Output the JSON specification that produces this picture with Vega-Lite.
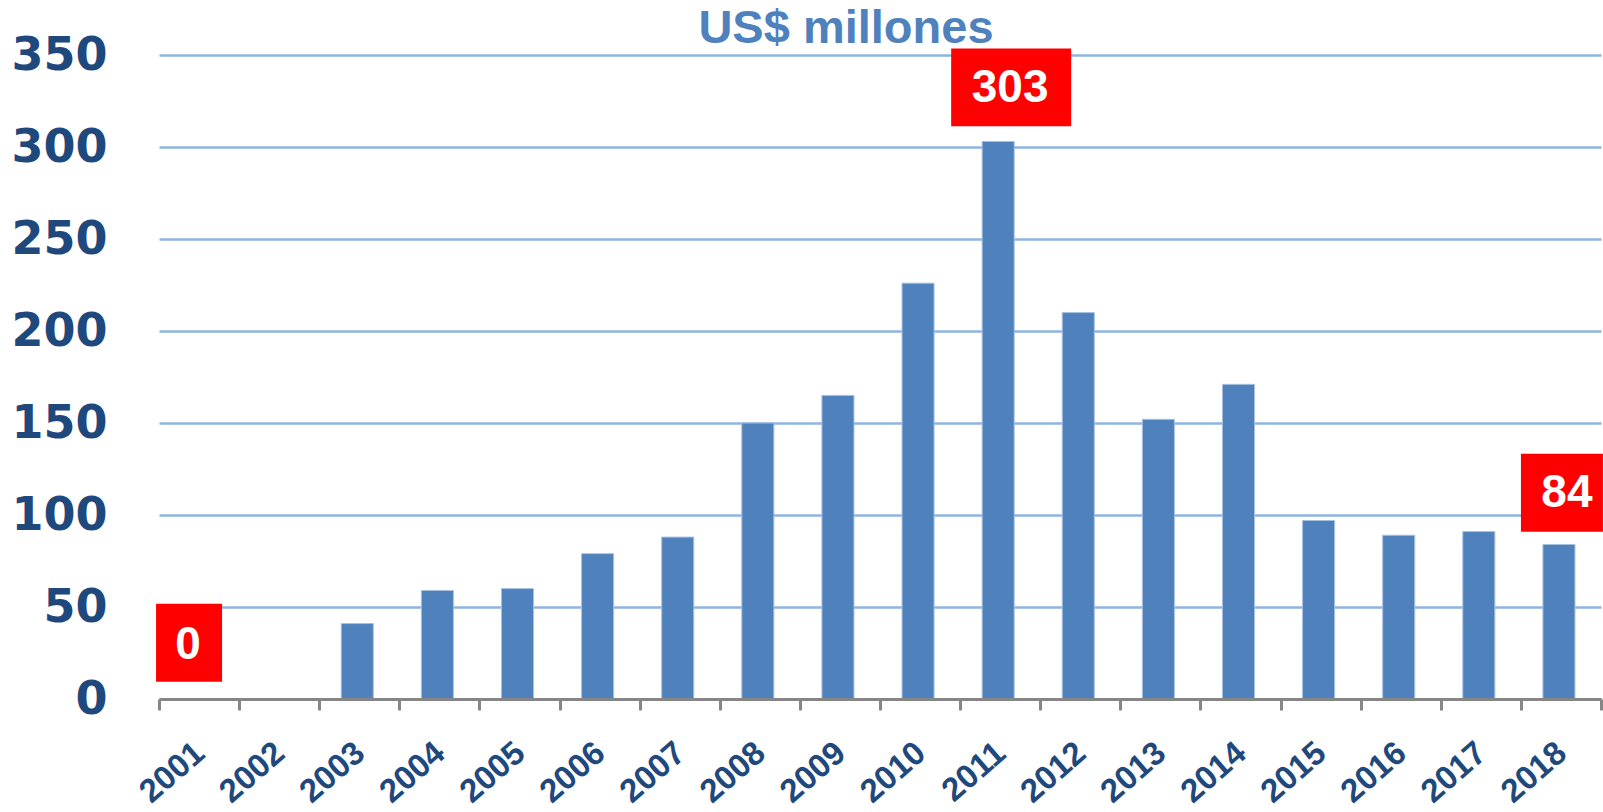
{
  "$schema": "https://vega.github.io/schema/vega-lite/v6.json",
  "autosize": {"type": "none"},
  "padding": {"left": 159, "top": 55, "right": 2, "bottom": 113},
  "width": 1442,
  "height": 644,
  "background": "white",
  "title": {
    "text": "US$ millones",
    "font": "Liberation Sans",
    "fontSize": 47,
    "fontWeight": "bold",
    "color": "#4F81BD",
    "anchor": "middle",
    "frame": "group",
    "dx": -34,
    "dy": 58,
    "baseline": "alphabetic",
    "offset": 0
  },
  "datasets": {
    "main": [
      {"year": "2001", "value": 0},
      {"year": "2002", "value": 0},
      {"year": "2003", "value": 41},
      {"year": "2004", "value": 59},
      {"year": "2005", "value": 60},
      {"year": "2006", "value": 79},
      {"year": "2007", "value": 88},
      {"year": "2008", "value": 150},
      {"year": "2009", "value": 165},
      {"year": "2010", "value": 226},
      {"year": "2011", "value": 303},
      {"year": "2012", "value": 210},
      {"year": "2013", "value": 152},
      {"year": "2014", "value": 171},
      {"year": "2015", "value": 97},
      {"year": "2016", "value": 89},
      {"year": "2017", "value": 91},
      {"year": "2018", "value": 84}
    ],
    "notes": [
      {"year": "2001", "label": "0", "lo": 9.4, "hi": 51.8, "mid": 29.5},
      {"year": "2011", "label": "303", "lo": 311.3, "hi": 353.6, "mid": 332.2},
      {"year": "2018", "label": "84", "lo": 90.9, "hi": 133.3, "mid": 112.1}
    ]
  },
  "encoding": {
    "x": {
      "field": "year",
      "type": "ordinal",
      "sort": null,
      "scale": {"domain": ["2001","2002","2003","2004","2005","2006","2007","2008","2009","2010","2011","2012","2013","2014","2015","2016","2017","2018"], "paddingInner": 0, "paddingOuter": 0},
      "axis": {
        "title": null,
        "zindex": 1,
        "domainColor": "#868686",
        "domainWidth": 3,
        "tickColor": "#868686",
        "tickWidth": 3,
        "tickSize": 11,
        "tickBand": "extent",
        "labelAngle": -41,
        "labelAlign": "right",
        "labelBaseline": "top",
        "labelPadding": 26,
        "labelFont": "Liberation Sans",
        "labelFontSize": 33,
        "labelFontWeight": "bold",
        "labelColor": "#1F497D",
        "labelOverlap": false,
        "labelOffset": -10
      }
    }
  },
  "layer": [
    {
      "data": {"name": "main"},
      "mark": {"type": "bar", "color": "#4F81BD", "stroke": "#A7C0E0", "strokeWidth": 1, "width": {"band": 0.4}, "xOffset": -2},
      "encoding": {
        "y": {
          "field": "value",
          "type": "quantitative",
          "scale": {"domain": [0, 350], "nice": false},
          "axis": {
            "title": null,
            "values": [0, 50, 100, 150, 200, 250, 300, 350],
            "domain": false,
            "ticks": false,
            "grid": true,
            "gridColor": "#8EB4E3",
            "gridWidth": 2.5,
            "labelFont": "DejaVu Sans",
            "labelFontSize": 46,
            "labelFontWeight": "bold",
            "labelColor": "#1F497D",
            "labelPadding": 52
          }
        }
      }
    },
    {
      "data": {"name": "notes"},
      "transform": [{"filter": "datum.label === '0'"}],
      "layer": [
        {
          "mark": {"type": "bar", "color": "#FF0000", "width": 66, "xOffset": -10},
          "encoding": {"y": {"field": "lo", "type": "quantitative"}, "y2": {"field": "hi"}}
        },
        {
          "mark": {"type": "text", "color": "white", "font": "Liberation Sans", "fontSize": 46, "fontWeight": "bold", "baseline": "middle", "align": "center", "dx": -11},
          "encoding": {"y": {"field": "mid", "type": "quantitative"}, "text": {"field": "label"}}
        }
      ]
    },
    {
      "data": {"name": "notes"},
      "transform": [{"filter": "datum.label === '303'"}],
      "layer": [
        {
          "mark": {"type": "bar", "color": "#FF0000", "width": 120, "xOffset": 11},
          "encoding": {"y": {"field": "lo", "type": "quantitative"}, "y2": {"field": "hi"}}
        },
        {
          "mark": {"type": "text", "color": "white", "font": "Liberation Sans", "fontSize": 46, "fontWeight": "bold", "baseline": "middle", "align": "center", "dx": 10},
          "encoding": {"y": {"field": "mid", "type": "quantitative"}, "text": {"field": "label"}}
        }
      ]
    },
    {
      "data": {"name": "notes"},
      "transform": [{"filter": "datum.label === '84'"}],
      "layer": [
        {
          "mark": {"type": "bar", "color": "#FF0000", "width": 82, "xOffset": 1},
          "encoding": {"y": {"field": "lo", "type": "quantitative"}, "y2": {"field": "hi"}}
        },
        {
          "mark": {"type": "text", "color": "white", "font": "Liberation Sans", "fontSize": 46, "fontWeight": "bold", "baseline": "middle", "align": "center", "dx": 6},
          "encoding": {"y": {"field": "mid", "type": "quantitative"}, "text": {"field": "label"}}
        }
      ]
    }
  ],
  "config": {"view": {"stroke": null}}
}
